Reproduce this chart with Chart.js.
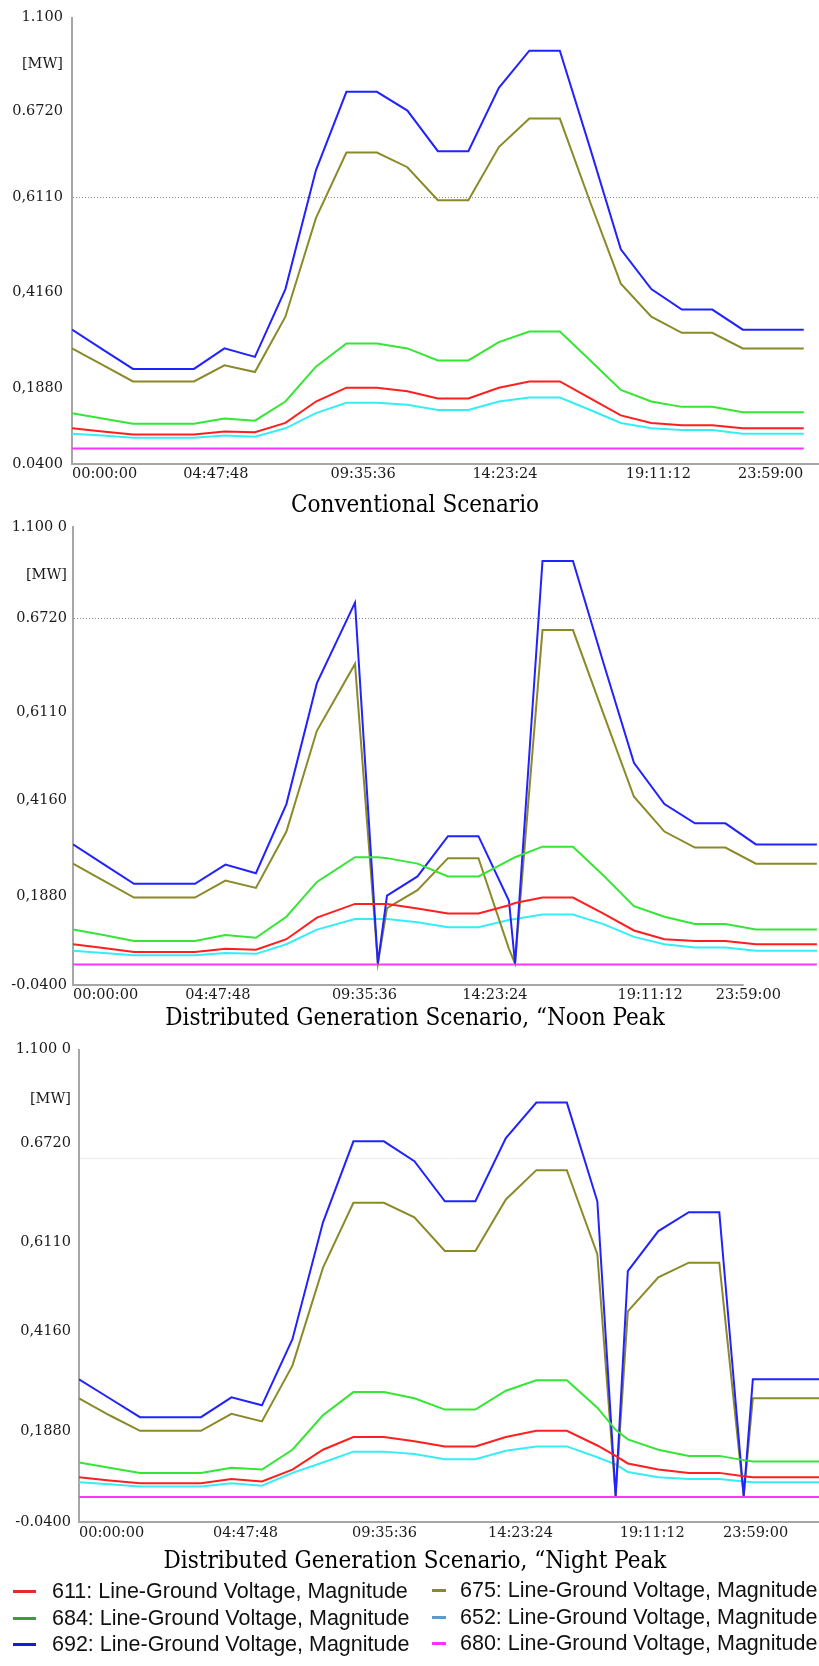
<!DOCTYPE html>
<html>
<head>
<meta charset="utf-8">
<script src="https://cdn.jsdelivr.net/npm/chart.js@4.4.1/dist/chart.umd.min.js"></script>
<style>
  html, body { margin: 0; padding: 0; background: #fff; }
  body { width: 819px; height: 1666px; position: relative; overflow: hidden; }
  .box { position: absolute; left: 0; width: 819px; }
  #legend { position: absolute; left: 0; top: 1576px; width: 819px; height: 90px;
            font-family: 'Liberation Sans', Arial, sans-serif; font-size: 21.5px; color: #111; }
  .item { position: absolute; white-space: nowrap; line-height: 24px; height: 24px; }
  .item i { position: absolute; height: 3px; top: 11px; }
</style>
</head>
<body>
<div class="box" style="top:0;height:520px"><canvas id="c1"></canvas></div>
<div class="box" style="top:508px;height:525px"><canvas id="c2"></canvas></div>
<div class="box" style="top:1033px;height:543px"><canvas id="c3"></canvas></div>
<div id="legend"></div>

<script>
// series (same order everywhere)
const seriesIds = ['611', '684', '692', '675', '652', '680'];
const seriesLabels = seriesIds.map(id => id + ': Line-Ground Voltage, Magnitude');
const lineColors = ['#ff1f1f', '#35e635', '#2222ff', '#8a8a28', '#35eef5', '#ff33ff'];
const legendColors = ['#e8282b', '#3c9c3c', '#1818e0', '#8c8c1c', '#5a9bd4', '#ff30ff'];

const xTickLabels = ['00:00:00', '04:47:48', '09:35:36', '14:23:24', '19:11:12', '23:59:00'];

// y values are read as % of the axis height (0 = bottom label, 100 = top label)
// --- Conventional Scenario
const time1 = [0, 1, 2, 3, 4, 5, 6, 7, 8, 9, 10, 11, 12, 13, 14, 15, 16, 17, 18, 19, 20, 21, 22, 23, 24];
const c1_611 = [8.0, 7.3, 6.6, 6.6, 6.6, 7.3, 7.1, 9.2, 14.0, 17.1, 17.1, 16.3, 14.7, 14.7, 17.1, 18.5, 18.5, 14.7, 10.9, 9.2, 8.7, 8.7, 8.0, 8.0, 8.0];
const c1_684 = [11.4, 10.2, 9.0, 9.0, 9.0, 10.2, 9.7, 14.0, 21.8, 27.0, 27.0, 25.9, 23.2, 23.2, 27.3, 29.7, 29.7, 23.2, 16.6, 14.0, 12.8, 12.8, 11.6, 11.6, 11.6];
const c1_692 = [30.1, 25.7, 21.3, 21.3, 21.3, 25.9, 24.0, 39.2, 65.8, 83.4, 83.4, 79.2, 70.1, 70.1, 84.3, 92.6, 92.6, 70.6, 48.1, 39.2, 34.6, 34.6, 30.1, 30.1, 30.1];
const c1_675 = [25.9, 22.2, 18.5, 18.5, 18.5, 22.1, 20.6, 33.0, 55.1, 69.8, 69.8, 66.5, 59.1, 59.1, 71.0, 77.4, 77.4, 58.6, 40.4, 33.0, 29.4, 29.4, 25.9, 25.9, 25.9];
const c1_652 = [6.8, 6.4, 5.9, 5.9, 5.9, 6.4, 6.1, 8.0, 11.4, 13.7, 13.7, 13.3, 12.1, 12.1, 14.0, 14.9, 14.9, 12.1, 9.2, 8.0, 7.6, 7.6, 6.8, 6.8, 6.8];
const c1_680 = [3.5, 3.5, 3.5, 3.5, 3.5, 3.5, 3.5, 3.5, 3.5, 3.5, 3.5, 3.5, 3.5, 3.5, 3.5, 3.5, 3.5, 3.5, 3.5, 3.5, 3.5, 3.5, 3.5, 3.5, 3.5];
const yPos1 = [0, 17.0, 38.5, 59.7, 79.0, 89.5, 100];
const yLabels1 = ['0.0400', '0,1880', '0,4160', '0,6110', '0.6720', '[MW]', '1.100'];
const xTicks1 = [0, 4.72, 9.55, 14.2, 19.23, 23.98];

// --- Distributed Generation, Noon Peak
const time2 = [0, 1, 2, 3, 4, 5, 6, 7, 8, 9.25, 10.0, 10.3, 11.3, 12.3, 13.3, 14.3, 14.5, 15.4, 16.4, 17.4, 18.4, 19.4, 20.4, 21.4, 22.4, 23.4, 24.4];
const c2_611 = [8.9, 8.1, 7.2, 7.2, 7.2, 7.9, 7.7, 10.0, 14.7, 17.7, 17.7, 17.7, 16.7, 15.6, 15.6, 17.4, 17.9, 19.1, 19.1, 15.6, 11.9, 10.0, 9.6, 9.6, 8.9, 8.9, 8.9];
const c2_684 = [12.1, 10.9, 9.6, 9.6, 9.6, 10.9, 10.3, 14.9, 22.5, 27.9, 27.9, 27.7, 26.5, 23.7, 23.7, 27.2, 27.9, 30.2, 30.2, 23.9, 17.2, 14.9, 13.3, 13.3, 12.1, 12.1, 12.1];
const c2_692 = [30.7, 26.4, 22.1, 22.1, 22.1, 26.3, 24.4, 39.5, 65.9, 83.5, 4.7, 19.5, 23.7, 32.5, 32.5, 18.4, 4.7, 92.6, 92.6, 70.3, 48.5, 39.5, 35.3, 35.3, 30.7, 30.7, 30.7];
const c2_675 = [26.5, 22.8, 19.1, 19.1, 19.1, 22.8, 21.2, 33.5, 55.5, 70.1, 4.7, 16.8, 20.7, 27.7, 27.7, 7.9, 4.7, 77.5, 77.5, 59.2, 41.1, 33.5, 30.0, 30.0, 26.5, 26.5, 26.5];
const c2_652 = [7.5, 7.0, 6.5, 6.5, 6.5, 7.0, 6.8, 8.9, 12.1, 14.4, 14.4, 14.4, 13.7, 12.6, 12.6, 14.2, 14.4, 15.4, 15.4, 13.3, 10.5, 8.9, 8.2, 8.2, 7.5, 7.5, 7.5];
const c2_680 = [4.5, 4.5, 4.5, 4.5, 4.5, 4.5, 4.5, 4.5, 4.5, 4.5, 4.5, 4.5, 4.5, 4.5, 4.5, 4.5, 4.5, 4.5, 4.5, 4.5, 4.5, 4.5, 4.5, 4.5, 4.5, 4.5, 4.5];
const yPos2 = [0, 19.4, 40.4, 59.6, 80.1, 89.5, 100];
const yLabels2 = ['-0.0400', '0,1880', '0,4160', '0,6110', '0.6720', '[MW]', '1.100 0'];
const xTicks2 = [0, 4.75, 9.56, 13.84, 18.93, 23.22];

// --- Distributed Generation, Night Peak
const time3 = [0, 1, 2, 3, 4, 5, 6, 7, 8, 9, 10, 11, 12, 13, 14, 15, 16, 17, 17.6, 18, 19, 20, 21, 21.8, 22.1, 23, 24.3];
const c3_611 = [9.5, 8.8, 8.2, 8.2, 8.2, 9.1, 8.6, 11.1, 15.3, 18.0, 18.0, 17.1, 16.0, 16.0, 18.0, 19.3, 19.3, 16.2, 14.0, 12.4, 11.1, 10.4, 10.4, 9.7, 9.5, 9.5, 9.5];
const c3_684 = [12.6, 11.5, 10.4, 10.4, 10.4, 11.5, 11.1, 15.3, 22.6, 27.5, 27.5, 26.2, 23.8, 23.8, 27.8, 30.0, 30.0, 24.2, 19.5, 17.5, 15.3, 14.0, 14.0, 13.1, 12.8, 12.8, 12.8];
const c3_692 = [30.2, 26.2, 22.2, 22.2, 22.2, 26.4, 24.7, 38.7, 63.4, 80.6, 80.6, 76.4, 67.9, 67.9, 81.3, 88.8, 88.8, 67.9, 5.5, 53.1, 61.6, 65.6, 65.6, 5.5, 30.2, 30.2, 30.2];
const c3_675 = [26.2, 22.6, 19.3, 19.3, 19.3, 22.9, 21.3, 33.1, 53.8, 67.6, 67.6, 64.5, 57.4, 57.4, 68.3, 74.5, 74.5, 56.7, 5.5, 44.6, 51.8, 54.9, 54.9, 5.5, 26.2, 26.2, 26.2];
const c3_652 = [8.4, 8.0, 7.5, 7.5, 7.5, 8.2, 7.7, 10.4, 12.6, 14.9, 14.9, 14.4, 13.3, 13.3, 15.1, 16.0, 16.0, 13.7, 12.2, 10.6, 9.5, 9.1, 9.1, 8.6, 8.4, 8.4, 8.4];
const c3_680 = [5.3, 5.3, 5.3, 5.3, 5.3, 5.3, 5.3, 5.3, 5.3, 5.3, 5.3, 5.3, 5.3, 5.3, 5.3, 5.3, 5.3, 5.3, 5.3, 5.3, 5.3, 5.3, 5.3, 5.3, 5.3, 5.3, 5.3];
const yPos3 = [0, 19.3, 40.3, 59.3, 76.9, 80.1, 89.5, 100];
const yLabels3 = ['-0.0400', '0,1880', '0,4160', '0,6110', '', '0.6720', '[MW]', '1.100 0'];
const xTicks3 = [0, 5.46, 10.02, 14.48, 18.8, 23.26];

const tickFont = { family: "'DejaVu Serif', serif", size: 14.5 };
const titleFont = { family: "'DejaVu Serif Condensed', 'DejaVu Serif', serif", size: 24, weight: 'normal' };

// bottom axis line, which stops short of the right edge on the middle chart
const axisLinePlugin = {
    id: 'axisLine',
    afterDraw(chart) {
        const end = chart.options.axisEnd;
        const area = chart.chartArea;
        const x2 = chart.scales.x.getPixelForValue(end);
        const c = chart.ctx;
        c.save();
        c.strokeStyle = '#a6a6a6';
        c.lineWidth = 2;
        c.beginPath();
        c.moveTo(area.left - 1, area.bottom);
        c.lineTo(Math.min(x2, area.right), area.bottom);
        c.stroke();
        c.restore();
    }
};

function makeChart(id, o) {
    const datasets = o.series.map((vals, s) => ({
        label: seriesLabels[s],
        data: o.time.map((t, i) => ({ x: t, y: vals[i] })),
        borderColor: lineColors[s],
        borderWidth: 2,
        pointRadius: 0,
        tension: 0,
        fill: false
    }));

    new Chart(document.getElementById(id), {
        type: 'line',
        data: { datasets },
        plugins: [axisLinePlugin],
        options: {
            axisEnd: o.axisEnd,
            animation: false,
            responsive: true,
            maintainAspectRatio: false,
            layout: { autoPadding: false, padding: { left: 11, right: 0, top: o.padTop, bottom: 0.2 } },
            plugins: {
                legend: { display: false },
                tooltip: { enabled: false },
                title: {
                    display: true,
                    position: 'bottom',
                    text: o.title,
                    color: '#000',
                    font: titleFont,
                    padding: { top: o.titlePad, bottom: 0 }
                }
            },
            scales: {
                x: {
                    type: 'linear',
                    min: 0,
                    max: o.xMax,
                    afterBuildTicks: ax => { ax.ticks = o.xTicks.map(v => ({ value: v })); },
                    afterFit: ax => { ax.height = o.axisH; },
                    grid: { color: 'rgba(0,0,0,0)', drawTicks: false },
                    border: { display: false },
                    ticks: {
                        autoSkip: false,
                        maxRotation: 0,
                        align: 'inner',
                        padding: o.xPad,
                        color: '#1a1a1a',
                        font: tickFont,
                        callback: (v, i) => xTickLabels[i]
                    }
                },
                y: {
                    type: 'linear',
                    min: 0,
                    max: 100,
                    afterBuildTicks: ax => { ax.ticks = o.yPos.map(v => ({ value: v })); },
                    afterFit: ax => { ax.width = o.axisX - 11; },
                    grid: {
                        drawTicks: false,
                        lineWidth: 1,
                        color: c => (c.tick && c.tick.value === o.gridAt) ? o.gridColor : 'rgba(0,0,0,0)'
                    },
                    border: { display: true, color: '#a6a6a6', width: 2, dash: o.gridDash },
                    ticks: {
                        autoSkip: false,
                        padding: o.yPad,
                        color: '#1a1a1a',
                        font: tickFont,
                        callback: (v, i) => o.yLabels[i]
                    }
                }
            }
        }
    });
}

makeChart('c1', {
    time: time1, series: [c1_611, c1_684, c1_692, c1_675, c1_652, c1_680],
    yPos: yPos1, yLabels: yLabels1, xTicks: xTicks1, xMax: 24.5, axisEnd: 24.5,
    gridAt: 59.7, gridColor: '#8c8c8c', gridDash: [1, 2],
    padTop: 17, axisH: 22, xPad: 1.3, titlePad: 5, axisX: 72, yPad: 9,
    title: 'Conventional Scenario'
});

makeChart('c2', {
    time: time2, series: [c2_611, c2_684, c2_692, c2_675, c2_652, c2_680],
    yPos: yPos2, yLabels: yLabels2, xTicks: xTicks2, xMax: 24.47, axisEnd: 22.0,
    gridAt: 80.1, gridColor: '#8c8c8c', gridDash: [1, 2],
    padTop: 19, axisH: 14, xPad: 1.3, titlePad: 5, axisX: 73, yPad: 6,
    title: 'Distributed Generation Scenario, \u201cNoon Peak'
});

makeChart('c3', {
    time: time3, series: [c3_611, c3_684, c3_692, c3_675, c3_652, c3_680],
    yPos: yPos3, yLabels: yLabels3, xTicks: xTicks3, xMax: 24.27, axisEnd: 24.27,
    gridAt: 76.9, gridColor: '#ececec', gridDash: [],
    padTop: 12, axisH: 17, xPad: 3, titlePad: 8, axisX: 79, yPad: 8,
    title: 'Distributed Generation Scenario, \u201cNight Peak'
});

// legend, two columns filled top to bottom
const legendOrder = [0, 1, 2, 3, 4, 5];
const legendCols = [{ mark: 13, markW: 23, text: 52, rows: [15, 42, 68] },
                    { mark: 432, markW: 14, text: 460, rows: [14, 41, 67] }];
const legend = document.getElementById('legend');
legendOrder.forEach((s, k) => {
    const col = legendCols[Math.floor(k / 3)];
    const row = col.rows[k % 3];
    const mark = document.createElement('div');
    mark.className = 'item';
    mark.style.left = col.mark + 'px';
    mark.style.top = (row - 12) + 'px';
    mark.innerHTML = '<i style="left:0;width:' + col.markW + 'px;background:' + legendColors[s] + '"></i>';
    legend.appendChild(mark);
    const txt = document.createElement('div');
    txt.className = 'item';
    txt.style.left = col.text + 'px';
    txt.style.top = (row - 12) + 'px';
    txt.textContent = seriesLabels[s];
    legend.appendChild(txt);
});
</script>
</body>
</html>
